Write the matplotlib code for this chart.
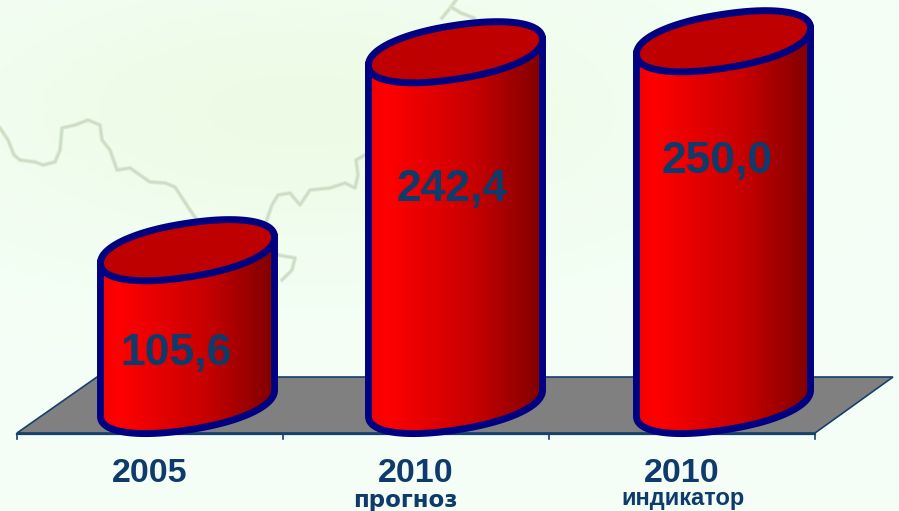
import numpy as np
from matplotlib import pyplot as plt
from matplotlib.colors import LinearSegmentedColormap
from matplotlib.patches import PathPatch, Polygon
from matplotlib.path import Path

plt.rcParams['font.family'] = ['Liberation Sans', 'DejaVu Sans']

categories = ['2005', '2010', '2010']
subtitles = ['', 'прогноз', 'индикатор']
values = [105.6, 242.4, 250.0]

W, H = 899, 511
TEXT = '#0E3A6C'
NAVY = '#000080'

# pixel scale of the chart: category step and value step
x_step = 268.0
y_step = 1.447
x0_px = 187.5
y0_px = 403.0

fig = plt.figure(figsize=(W / 100, H / 100), dpi=100)

# back layer in pixels: background, map trace, floor
back = fig.add_axes([0, 0, 1, 1], zorder=0)
yy, xx = np.mgrid[0:H:256j, 0:W:256j]
glow = np.exp(-(((xx - 300) / 380) ** 2 + ((yy - 110) / 150) ** 2))
bg = np.zeros((256, 256, 3))
base = np.array([245, 255, 247]) / 255
tint = np.array([237, 251, 230]) / 255
for c in range(3):
    bg[:, :, c] = base[c] + (tint[c] - base[c]) * glow
back.imshow(bg, extent=[0, W, H, 0], aspect='auto', interpolation='bilinear')

map_lines = [
    [(0, 128), (8, 140), (14, 155), (20, 160), (35, 162), (43, 165), (55, 162), (60, 150),
     (62, 128), (75, 125), (88, 120), (100, 125), (102, 140), (110, 150), (117, 170),
     (130, 168), (140, 175), (150, 182), (165, 183), (175, 187), (190, 210), (197, 220)],
    [(266, 222), (272, 205), (278, 195), (290, 193), (300, 205), (310, 190), (330, 188),
     (345, 183), (355, 188), (358, 175), (356, 160), (365, 155)],
    [(278, 255), (295, 258), (292, 270), (282, 280)],
    [(442, 18), (451, 7), (456, 0)],
    [(451, 7), (461, 13), (474, 18)],
]
for line in map_lines:
    px, py = zip(*line)
    back.plot(px, py, color='#DCEBD6', lw=3.0, solid_joinstyle='round')
    back.plot(px, py, color='#CBDEC4', lw=1.5, solid_joinstyle='round')

back.add_patch(Polygon([(17, 433), (815, 433), (893, 377), (97, 377)], closed=True,
                       facecolor='#808080', edgecolor='#17406D', lw=1.2))
back.plot([17, 815], [434, 434], color='#17406D', lw=1.6)
for tx in [17, 283, 549, 815]:
    back.plot([tx, tx], [434, 439], color='#17406D', lw=1.2)
back.set_xlim(0, W)
back.set_ylim(H, 0)
back.axis('off')

# cylinders in data units
ax = fig.add_axes([0, 0, 1, 1], zorder=1)
ax.patch.set_alpha(0)
xlim = (-x0_px / x_step, (W - x0_px) / x_step)
ylim = ((y0_px - H) / y_step, y0_px / y_step)

half_w = 87 / x_step
tilt = 13 / y_step
half_h = 27 / y_step
cmap = LinearSegmentedColormap.from_list('cyl', [(0, '#F00000'), (0.1, '#FF0000'), (0.6, '#C80000'),
                                                 (1, '#800000')])
grad = np.linspace(0, 1, 256).reshape(1, -1)


def rim(angles):
    # slightly squared ellipse, the rims in the picture are fuller than a true one
    c = np.sign(np.cos(angles)) * np.abs(np.cos(angles)) ** 0.92
    s = np.sign(np.sin(angles)) * np.abs(np.sin(angles)) ** 0.92
    return half_w * c, tilt * c + half_h * s


t = np.linspace(0, 2 * np.pi, 241)
low = np.linspace(np.pi, 2 * np.pi, 121)

for i, v in enumerate(values):
    # sides and lower rim
    rx, ry = rim(low)
    body = np.vstack([[i - half_w, v - tilt], np.column_stack([i + rx, ry]), [i + half_w, v + tilt]])
    body_patch = PathPatch(Path(np.vstack([body, body[:1]])), facecolor='none', edgecolor='none')
    ax.add_patch(body_patch)
    im = ax.imshow(grad, extent=[i - half_w, i + half_w, -40, v + 30], aspect='auto',
                   cmap=cmap, vmin=0, vmax=1, zorder=2)
    im.set_clip_path(body_patch)
    ax.plot(body[:, 0], body[:, 1], color=NAVY, lw=5.0, zorder=3, solid_joinstyle='round')

    # top ellipse
    rx, ry = rim(t)
    ax.fill(i + rx, v + ry, facecolor='#BE0000', edgecolor=NAVY, lw=5.0, zorder=4)

ax.set_xlim(xlim)
ax.set_ylim(ylim)
ax.axis('off')

# texts are placed in pixels
label_pos = [(176, 354), (452, 190), (717, 161)]
cat_x = [150, 416, 682]
sub_pos = [None, (405, 500), (683, 499)]
sub_font = [None, ('DejaVu Sans', 16.5), ('Liberation Sans', 17)]
for i, v in enumerate(values):
    ax.text(label_pos[i][0], label_pos[i][1], f'{v:.1f}'.replace('.', ','), transform=back.transData,
            ha='center', va='center', fontsize=32, fontweight='bold', color=TEXT, zorder=6)
    ax.text(cat_x[i], 473, categories[i], transform=back.transData, ha='center', va='center',
            fontsize=24.5, fontweight='bold', color=TEXT, zorder=6)
    if subtitles[i]:
        ax.text(sub_pos[i][0], sub_pos[i][1], subtitles[i], transform=back.transData, ha='center',
                va='center', family=sub_font[i][0], fontsize=sub_font[i][1], fontweight='bold',
                color=TEXT, zorder=6)

fig.savefig('out.png', dpi=100)
